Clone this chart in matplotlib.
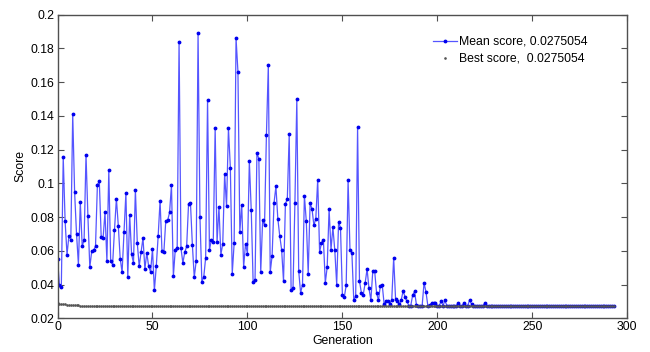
import matplotlib
matplotlib.use("Agg")
import matplotlib.pyplot as plt
import numpy as np

plt.rcParams['font.family'] = ['Liberation Sans', 'DejaVu Sans']

#%% data
mean_score = [
    0.0553, 0.0400, 0.0387, 0.1156, 0.0775, 0.0578, 0.0690, 0.0667, 0.1410, 0.0947,
    0.0702, 0.0519, 0.0888, 0.0627, 0.0667, 0.1170, 0.0805, 0.0503, 0.0598, 0.0604,
    0.0627, 0.0992, 0.1012, 0.0681, 0.0677, 0.0830, 0.0539, 0.1077, 0.0539, 0.0519,
    0.0726, 0.0910, 0.0750, 0.0555, 0.0474, 0.0712, 0.0943, 0.0446, 0.0813, 0.0580,
    0.0529, 0.0963, 0.0647, 0.0509, 0.0592, 0.0677, 0.0493, 0.0588, 0.0509, 0.0476,
    0.0612, 0.0366, 0.0509, 0.0690, 0.0898, 0.0598, 0.0594, 0.0779, 0.0781, 0.0828,
    0.0990, 0.0450, 0.0608, 0.0618, 0.1840, 0.0616, 0.0529, 0.0592, 0.0627, 0.0880,
    0.0884, 0.0637, 0.0444, 0.0539, 0.1889, 0.0800, 0.0419, 0.0446, 0.0559, 0.1495,
    0.0604, 0.0667, 0.0651, 0.1327, 0.0651, 0.0860, 0.0578, 0.0641, 0.1057, 0.0864,
    0.1327, 0.1094, 0.0464, 0.0645, 0.1860, 0.1662, 0.0712, 0.0874, 0.0505, 0.0643,
    0.0584, 0.1130, 0.0844, 0.0415, 0.0427, 0.1179, 0.1147, 0.0474, 0.0781, 0.0752,
    0.1288, 0.1701, 0.0474, 0.0572, 0.0884, 0.0982, 0.0791, 0.0690, 0.0608, 0.0421,
    0.0880, 0.0907, 0.1292, 0.0366, 0.0380, 0.0884, 0.1499, 0.0480, 0.0352, 0.0401,
    0.0927, 0.0775, 0.0466, 0.0884, 0.0848, 0.0752, 0.0791, 0.1022, 0.0594, 0.0647,
    0.0667, 0.0411, 0.0505, 0.0848, 0.0608, 0.0740, 0.0604, 0.0401, 0.0771, 0.0736,
    0.0342, 0.0326, 0.0397, 0.1018, 0.0608, 0.0588, 0.0307, 0.0332, 0.1333, 0.0421,
    0.0352, 0.0342, 0.0411, 0.0493, 0.0378, 0.0309, 0.0480, 0.0480, 0.0352, 0.0307,
    0.0395, 0.0397, 0.0283, 0.0302, 0.0302, 0.0287, 0.0311, 0.0559, 0.0317, 0.0302,
    0.0283, 0.0311, 0.0364, 0.0326, 0.0302, 0.0276, 0.0276, 0.0338, 0.0360, 0.0280,
    0.0276, 0.0276, 0.0276, 0.0411, 0.0358, 0.0276, 0.0280, 0.0290, 0.0290, 0.0290,
    0.0276, 0.0276, 0.0302, 0.0276, 0.0307, 0.0276, 0.0276, 0.0276, 0.0276, 0.0276,
    0.0276, 0.0290, 0.0276, 0.0276, 0.0290, 0.0276, 0.0276, 0.0309, 0.0285, 0.0276,
    0.0276, 0.0276, 0.0276, 0.0276, 0.0276, 0.0290, 0.0276, 0.0276, 0.0276, 0.0276,
    0.0275, 0.0275, 0.0275, 0.0275, 0.0275, 0.0275, 0.0275, 0.0275, 0.0275, 0.0275,
    0.0275, 0.0275, 0.0275, 0.0275, 0.0275, 0.0275, 0.0275, 0.0275, 0.0275, 0.0275,
    0.0275, 0.0275, 0.0275, 0.0275, 0.0275, 0.0275, 0.0275, 0.0275, 0.0275, 0.0275,
    0.0275, 0.0275, 0.0275, 0.0275, 0.0275, 0.0275, 0.0275, 0.0275, 0.0275, 0.0275,
    0.0275, 0.0275, 0.0275, 0.0275, 0.0275, 0.0275, 0.0275, 0.0275, 0.0275, 0.0275,
    0.0275, 0.0275, 0.0275, 0.0275, 0.0275, 0.0275, 0.0275, 0.0275, 0.0275, 0.0275,
    0.0275, 0.0275, 0.0275, 0.0275,
]

best_score = [
    0.0290, 0.0286, 0.0285, 0.0283, 0.0283, 0.0281, 0.0282, 0.0279, 0.0280, 0.0278,
    0.0278, 0.0277, 0.0276, 0.0276, 0.0276, 0.0276, 0.0276, 0.0276, 0.0276, 0.0276,
    0.0276, 0.0276, 0.0276, 0.0276, 0.0276, 0.0276, 0.0276, 0.0276, 0.0276, 0.0276,
    0.0276, 0.0276, 0.0276, 0.0276, 0.0276, 0.0276, 0.0276, 0.0276, 0.0276, 0.0276,
    0.0276, 0.0276, 0.0276, 0.0276, 0.0276, 0.0276, 0.0276, 0.0276, 0.0276, 0.0276,
    0.0276, 0.0276, 0.0276, 0.0276, 0.0276, 0.0276, 0.0276, 0.0276, 0.0276, 0.0276,
    0.0276, 0.0276, 0.0276, 0.0276, 0.0276, 0.0276, 0.0276, 0.0276, 0.0276, 0.0276,
    0.0276, 0.0276, 0.0276, 0.0276, 0.0276, 0.0276, 0.0276, 0.0276, 0.0276, 0.0276,
    0.0276, 0.0276, 0.0276, 0.0276, 0.0276, 0.0276, 0.0276, 0.0276, 0.0276, 0.0276,
    0.0276, 0.0276, 0.0276, 0.0276, 0.0276, 0.0276, 0.0276, 0.0276, 0.0276, 0.0276,
    0.0275, 0.0275, 0.0275, 0.0275, 0.0275, 0.0275, 0.0275, 0.0275, 0.0275, 0.0275,
    0.0275, 0.0275, 0.0275, 0.0275, 0.0275, 0.0275, 0.0275, 0.0275, 0.0275, 0.0275,
    0.0275, 0.0275, 0.0275, 0.0275, 0.0275, 0.0275, 0.0275, 0.0275, 0.0275, 0.0275,
    0.0275, 0.0275, 0.0275, 0.0275, 0.0275, 0.0275, 0.0275, 0.0275, 0.0275, 0.0275,
    0.0275, 0.0275, 0.0275, 0.0275, 0.0275, 0.0275, 0.0275, 0.0275, 0.0275, 0.0275,
    0.0275, 0.0275, 0.0275, 0.0275, 0.0275, 0.0275, 0.0275, 0.0275, 0.0275, 0.0275,
    0.0275, 0.0275, 0.0275, 0.0275, 0.0275, 0.0275, 0.0275, 0.0275, 0.0275, 0.0275,
    0.0275, 0.0275, 0.0275, 0.0275, 0.0275, 0.0275, 0.0275, 0.0275, 0.0275, 0.0275,
    0.0275, 0.0275, 0.0275, 0.0275, 0.0275, 0.0275, 0.0275, 0.0275, 0.0275, 0.0275,
    0.0275, 0.0275, 0.0275, 0.0275, 0.0275, 0.0275, 0.0275, 0.0275, 0.0275, 0.0275,
    0.0275, 0.0275, 0.0275, 0.0275, 0.0275, 0.0275, 0.0275, 0.0275, 0.0275, 0.0275,
    0.0275, 0.0275, 0.0275, 0.0275, 0.0275, 0.0275, 0.0275, 0.0275, 0.0275, 0.0275,
    0.0275, 0.0275, 0.0275, 0.0275, 0.0275, 0.0275, 0.0275, 0.0275, 0.0275, 0.0275,
    0.0275, 0.0275, 0.0275, 0.0275, 0.0275, 0.0275, 0.0275, 0.0275, 0.0275, 0.0275,
    0.0275, 0.0275, 0.0275, 0.0275, 0.0275, 0.0275, 0.0275, 0.0275, 0.0275, 0.0275,
    0.0275, 0.0275, 0.0275, 0.0275, 0.0275, 0.0275, 0.0275, 0.0275, 0.0275, 0.0275,
    0.0275, 0.0275, 0.0275, 0.0275, 0.0275, 0.0275, 0.0275, 0.0275, 0.0275, 0.0275,
    0.0275, 0.0275, 0.0275, 0.0275, 0.0275, 0.0275, 0.0275, 0.0275, 0.0275, 0.0275,
    0.0275, 0.0275, 0.0275, 0.0275, 0.0275, 0.0275, 0.0275, 0.0275, 0.0275, 0.0275,
    0.0275, 0.0275, 0.0275, 0.0275,
]

x_ticks = [0, 50, 100, 150, 200, 250, 300]
y_ticks = [0.02, 0.04, 0.06, 0.08, 0.1, 0.12, 0.14, 0.16, 0.18, 0.2]
y_tick_labels = ['0.02', '0.04', '0.06', '0.08', '0.1', '0.12', '0.14', '0.16', '0.18', '0.2']
final_best = 0.0275054
final_mean = 0.0275054

#%% plot
fs = 8.8
axcol = '#505050'

fig = plt.figure(figsize=(6.5, 3.52), dpi=100)
ax = fig.add_axes([0.0885, 0.0952, 0.965 - 0.0885, 0.9588 - 0.0952])

gens = np.arange(len(mean_score))
ax.plot(gens, mean_score, '-', color='#5555ff', lw=0.9,
        marker='.', ms=3.5, mfc='#0000ee', mec='#0000ee',
        label='Mean score, %g' % final_mean)
ax.plot(np.arange(len(best_score)), best_score, linestyle='none',
        marker='.', ms=1.8, color='#555555',
        label='Best score,  %g' % final_best)

ax.set_xlim(0, 300)
ax.set_ylim(0.02, 0.2)
ax.set_xticks(x_ticks)
ax.set_yticks(y_ticks)
ax.set_yticklabels(y_tick_labels)
ax.tick_params(direction='in', top=True, right=True, length=4, width=0.8,
               color=axcol, labelsize=fs, pad=2)
for s in ax.spines.values():
    s.set_color(axcol)
    s.set_linewidth(1.0)

ax.set_xlabel('Generation', fontsize=fs, labelpad=1)
ax.set_ylabel('Score', fontsize=fs, labelpad=3)

ax.legend(loc='upper left', bbox_to_anchor=(0.666, 0.898), bbox_transform=fig.transFigure,
          frameon=False, fontsize=fs, handlelength=2.0, handletextpad=0.15,
          borderpad=0, borderaxespad=0, labelspacing=0.4, numpoints=1)

fig.savefig('out.png', dpi=100)
